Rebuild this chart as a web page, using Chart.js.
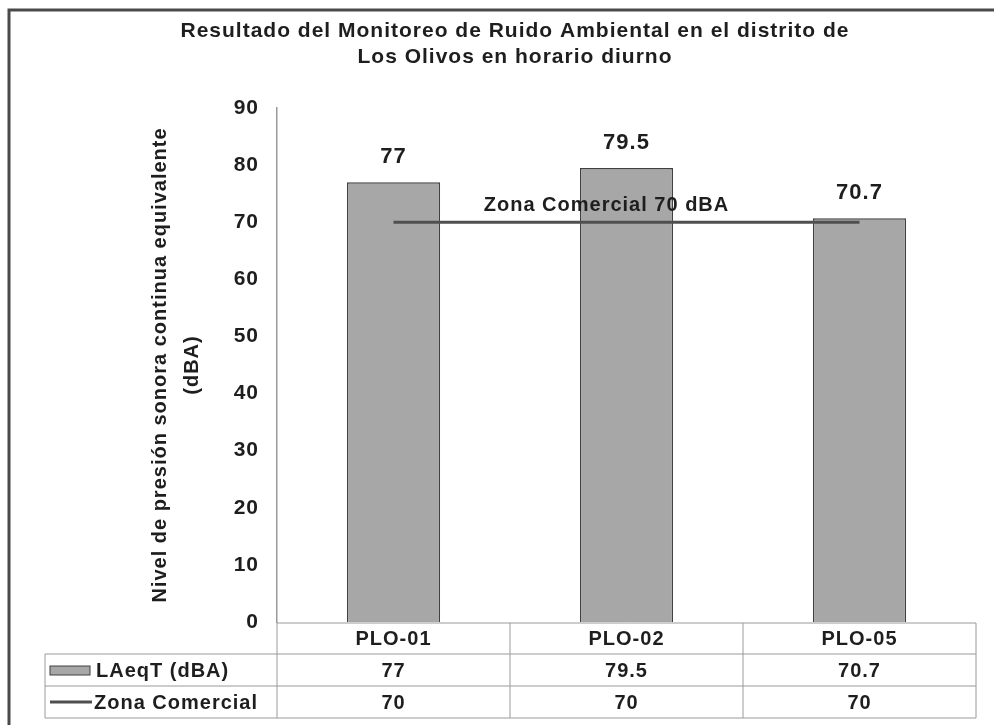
<!DOCTYPE html>
<html>
<head>
<meta charset="utf-8">
<script src="https://cdn.jsdelivr.net/npm/chart.js@4.4.0/dist/chart.umd.min.js"></script>
<style>
  html, body { margin: 0; padding: 0; background: #fff; }
  #wrap { width: 994px; height: 725px; }
</style>
</head>
<body>
<div id="wrap"><canvas id="myChart" width="994" height="725"></canvas></div>
<script>
// data
const categories = ['PLO-01', 'PLO-02', 'PLO-05'];
const laeqValues = [77, 79.5, 70.7];
const zonaValues = [70, 70, 70];
const seriesNames = ['LAeqT (dBA)', 'Zona Comercial'];
const zonaLabel = 'Zona Comercial 70 dBA';
const titleLines = ['Resultado del Monitoreo de Ruido Ambiental en el distrito de', 'Los Olivos en horario diurno'];
const yTitleLines = ['Nivel de presión sonora continua equivalente', '(dBA)'];

const FONT = "'Liberation Sans', Arial, sans-serif";
const TEXT = '#1e1e1e';
const BAR_FILL = '#a7a7a7';
const BAR_EDGE = '#404040';
const LINE_COL = '#4f4f4f';

const extras = {
  id: 'extras',
  beforeDraw(chart) {
    const ctx = chart.ctx;
    ctx.save();
    ctx.fillStyle = '#fff';
    ctx.fillRect(0, 0, chart.width, chart.height);
    // outer frame
    ctx.strokeStyle = '#4a4a4a';
    ctx.lineWidth = 3;
    ctx.beginPath();
    ctx.moveTo(9, chart.height);
    ctx.lineTo(9, 10);
    ctx.lineTo(chart.width, 10);
    ctx.stroke();
    // title
    ctx.fillStyle = TEXT;
    ctx.letterSpacing = '1px';
    ctx.font = 'bold 21px ' + FONT;
    ctx.textAlign = 'center';
    ctx.textBaseline = 'middle';
    titleLines.forEach((t, i) => ctx.fillText(t, 515, 31 + i * 26));
    ctx.restore();
    // the scanned original has wide letter spacing everywhere
    ctx.letterSpacing = '1px';
  },
  afterDraw(chart) {
    const ctx = chart.ctx;
    const xs = chart.scales.x, ys = chart.scales.y;
    const area = chart.chartArea;
    const n = categories.length;
    const colW = (area.right - area.left) / n;
    ctx.save();
    ctx.letterSpacing = '1px';

    // value labels above bars
    ctx.fillStyle = TEXT;
    ctx.font = 'bold 22px ' + FONT;
    ctx.textAlign = 'center';
    ctx.textBaseline = 'middle';
    laeqValues.forEach((v, i) => {
      ctx.fillText(String(v), xs.getPixelForValue(i), ys.getPixelForValue(v) - 25);
    });
    // reference line label
    ctx.font = 'bold 20px ' + FONT;
    ctx.fillText(zonaLabel, xs.getPixelForValue(1) - 20, ys.getPixelForValue(zonaValues[1]) - 17);

    // data table
    const rows = [area.bottom + 1, area.bottom + 32, area.bottom + 64, area.bottom + 96];
    const legLeft = 45;
    ctx.strokeStyle = '#9a9a9a';
    ctx.lineWidth = 1;
    ctx.beginPath();
    ctx.moveTo(area.left, rows[0]); ctx.lineTo(area.right, rows[0]);
    for (let r = 1; r < rows.length; r++) {
      ctx.moveTo(legLeft, rows[r]); ctx.lineTo(area.right, rows[r]);
    }
    for (let c = 0; c <= n; c++) {
      const x = area.left + c * colW;
      ctx.moveTo(x, rows[0]); ctx.lineTo(x, rows[3]);
    }
    ctx.moveTo(legLeft, rows[1]); ctx.lineTo(legLeft, rows[3]);
    ctx.stroke();

    ctx.fillStyle = TEXT;
    ctx.font = 'bold 20px ' + FONT;
    categories.forEach((c, i) => {
      const cx = xs.getPixelForValue(i);
      ctx.fillText(c, cx, (rows[0] + rows[1]) / 2 + 1);
      ctx.fillText(String(laeqValues[i]), cx, (rows[1] + rows[2]) / 2 + 1);
      ctx.fillText(String(zonaValues[i]), cx, (rows[2] + rows[3]) / 2 + 1);
    });

    // legend keys in table
    const m1 = (rows[1] + rows[2]) / 2, m2 = (rows[2] + rows[3]) / 2;
    ctx.fillStyle = BAR_FILL;
    ctx.fillRect(50, m1 - 4, 40, 9);
    ctx.strokeStyle = BAR_EDGE;
    ctx.strokeRect(50, m1 - 4, 40, 9);
    ctx.strokeStyle = LINE_COL;
    ctx.lineWidth = 3;
    ctx.beginPath();
    ctx.moveTo(50, m2); ctx.lineTo(92, m2);
    ctx.stroke();
    ctx.fillStyle = TEXT;
    ctx.textAlign = 'left';
    ctx.fillText(seriesNames[0], 96, m1 + 1);
    ctx.fillText(seriesNames[1], 94, m2 + 1);
    ctx.restore();
  }
};

const ctx = document.getElementById('myChart').getContext('2d');
new Chart(ctx, {
  data: {
    labels: categories,
    datasets: [
      {
        type: 'line',
        label: seriesNames[1],
        data: zonaValues,
        borderColor: LINE_COL,
        borderWidth: 3,
        pointRadius: 0,
        order: 0
      },
      {
        type: 'bar',
        label: seriesNames[0],
        data: laeqValues,
        backgroundColor: BAR_FILL,
        borderColor: BAR_EDGE,
        borderWidth: 1.5,
        barPercentage: 0.4,
        categoryPercentage: 1,
        order: 1
      }
    ]
  },
  options: {
    responsive: false,
    animation: false,
    layout: { padding: { top: 108, right: 18, bottom: 103, left: 0 } },
    plugins: {
      legend: { display: false },
      title: { display: false },
      tooltip: { enabled: false }
    },
    scales: {
      x: {
        display: false,
        offset: true
      },
      y: {
        min: 0,
        max: 90,
        ticks: {
          stepSize: 10,
          padding: 18,
          color: TEXT,
          font: { family: FONT, size: 21, weight: 'bold' }
        },
        grid: { display: false, drawTicks: false },
        border: { display: true, color: '#9a9a9a', width: 1.5 },
        title: {
          display: true,
          text: yTitleLines,
          color: TEXT,
          font: { family: FONT, size: 20, weight: 'bold', lineHeight: 1.6 },
          padding: { top: 144, bottom: 0 }
        },
        afterFit(scale) { scale.width = 277; }
      }
    }
  },
  plugins: [extras]
});
</script>
</body>
</html>
